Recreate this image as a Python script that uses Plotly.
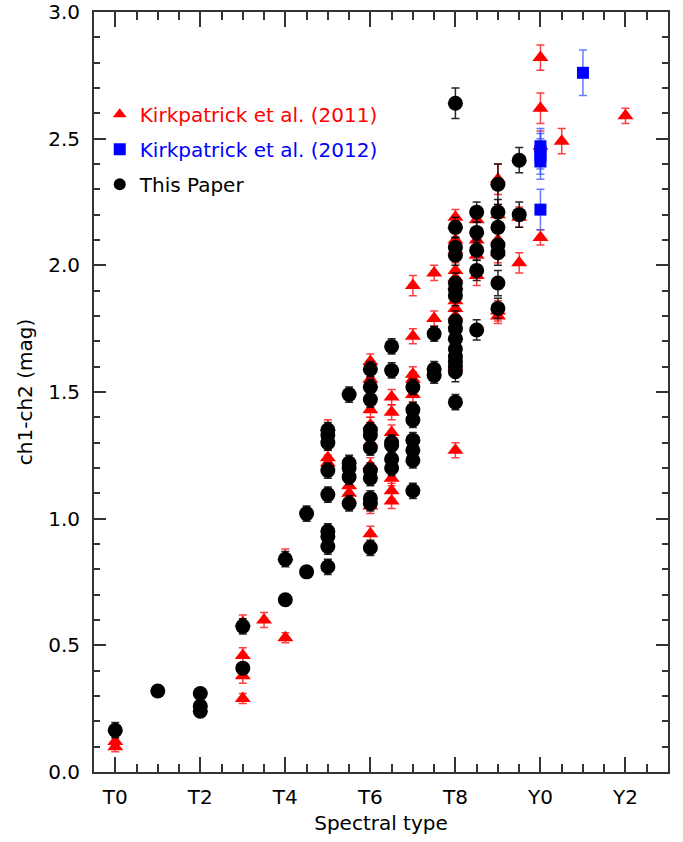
import plotly.graph_objects as go

# Kirkpatrick et al. (2011)
k11_x = [0, 0, 3, 3, 3, 3, 3.5, 4, 4, 5, 5, 5, 5.5, 5.5,
         6, 6, 6, 6, 6, 6, 6, 6, 6,
         6.5, 6.5, 6.5, 6.5, 6.5, 6.5,
         7, 7, 7, 7, 7, 7.5, 7.5,
         8, 8, 8, 8, 8, 8, 8, 8, 8, 8, 8, 8, 8,
         8.5, 8.5, 8.5, 8.5,
         9, 9, 9, 9, 9, 9, 9.5, 9.5,
         10, 10, 10, 10, 10.5, 12]
k11_y = [0.12, 0.10, 0.59, 0.46, 0.38, 0.29, 0.60, 0.85, 0.53, 1.36, 1.24, 1.22, 1.13, 1.10,
         1.62, 1.55, 1.53, 1.43, 1.37, 1.30, 1.21, 1.05, 0.94,
         1.48, 1.42, 1.34, 1.16, 1.11, 1.07,
         1.92, 1.72, 1.57, 1.55, 1.49, 1.97, 1.79,
         2.19, 2.16, 2.10, 2.06, 1.98, 1.95, 1.92, 1.86, 1.83, 1.80, 1.72, 1.60, 1.27,
         2.18, 2.10, 2.04, 1.96,
         2.34, 2.20, 2.10, 2.05, 1.82, 1.80, 2.19, 2.01,
         2.82, 2.62, 2.47, 2.11, 2.49, 2.59]
k11_err = [0.02, 0.02, 0.03, 0.03, 0.03, 0.02, 0.03, 0.03, 0.02, 0.03, 0.03, 0.03, 0.03, 0.03,
           0.03, 0.03, 0.03, 0.03, 0.03, 0.03, 0.03, 0.03, 0.03,
           0.03, 0.03, 0.03, 0.03, 0.03, 0.03,
           0.04, 0.03, 0.03, 0.03, 0.03, 0.03, 0.03,
           0.03, 0.03, 0.03, 0.03, 0.03, 0.03, 0.03, 0.03, 0.03, 0.03, 0.03, 0.03, 0.03,
           0.04, 0.04, 0.04, 0.04,
           0.06, 0.04, 0.04, 0.04, 0.04, 0.03, 0.04, 0.04,
           0.05, 0.06, 0.06, 0.03, 0.05, 0.03]

# Kirkpatrick et al. (2012)
k12_x = [10, 10, 10, 10, 10, 11]
k12_y = [2.47, 2.45, 2.43, 2.41, 2.22, 2.76]
k12_err = [0.07, 0.07, 0.07, 0.07, 0.08, 0.09]

# This Paper
tp_x = [0, 1, 2, 2, 2, 3, 3, 4, 4, 4.5, 4.5,
        5, 5, 5, 5, 5, 5, 5, 5, 5,
        5.5, 5.5, 5.5, 5.5, 5.5,
        6, 6, 6, 6, 6, 6, 6, 6, 6, 6, 6,
        6.5, 6.5, 6.5, 6.5, 6.5, 6.5,
        7, 7, 7, 7, 7, 7, 7,
        7.5, 7.5, 7.5,
        8, 8, 8, 8, 8, 8, 8, 8, 8, 8, 8, 8, 8, 8, 8, 8,
        8.5, 8.5, 8.5, 8.5, 8.5,
        9, 9, 9, 9, 9, 9, 9,
        9.5, 9.5]
tp_y = [0.165, 0.32, 0.31, 0.26, 0.24, 0.575, 0.41, 0.84, 0.68, 1.02, 0.79,
        1.35, 1.33, 1.30, 1.19, 1.095, 0.95, 0.93, 0.89, 0.81,
        1.49, 1.22, 1.20, 1.165, 1.06,
        1.59, 1.52, 1.47, 1.35, 1.33, 1.28, 1.19, 1.16, 1.08, 1.06, 0.885,
        1.68, 1.585, 1.30, 1.29, 1.235, 1.20,
        1.52, 1.43, 1.39, 1.31, 1.27, 1.23, 1.11,
        1.73, 1.59, 1.565,
        2.64, 2.15, 2.07, 2.04, 1.93, 1.905, 1.88, 1.78, 1.75, 1.71, 1.67, 1.64, 1.62, 1.60, 1.58, 1.46,
        2.21, 2.13, 2.06, 1.98, 1.745,
        2.32, 2.21, 2.15, 2.08, 2.05, 1.93, 1.83,
        2.415, 2.20]
tp_err = [0.03, 0.02, 0.02, 0.02, 0.02, 0.03, 0.02, 0.03, 0.02, 0.03, 0.02,
          0.03, 0.03, 0.03, 0.03, 0.03, 0.03, 0.03, 0.03, 0.03,
          0.03, 0.03, 0.03, 0.03, 0.03,
          0.03, 0.03, 0.03, 0.03, 0.03, 0.03, 0.03, 0.03, 0.03, 0.03, 0.03,
          0.03, 0.03, 0.03, 0.03, 0.03, 0.03,
          0.03, 0.03, 0.03, 0.03, 0.03, 0.03, 0.03,
          0.03, 0.03, 0.03,
          0.06, 0.04, 0.04, 0.04, 0.04, 0.04, 0.04, 0.04, 0.04, 0.04, 0.04, 0.04, 0.04, 0.04, 0.04, 0.03,
          0.04, 0.04, 0.04, 0.04, 0.04,
          0.08, 0.05, 0.05, 0.05, 0.05, 0.05, 0.04,
          0.05, 0.05]

x_tickvals = [0, 2, 4, 6, 8, 10, 12]
x_ticktext = ["T0", "T2", "T4", "T6", "T8", "Y0", "Y2"]
y_tickvals = [0.0, 0.5, 1.0, 1.5, 2.0, 2.5, 3.0]
y_ticktext = ["0.0", "0.5", "1.0", "1.5", "2.0", "2.5", "3.0"]

FONT = "DejaVu Sans"

fig = go.Figure()
fig.add_trace(go.Scatter(
    x=k11_x, y=k11_y, mode="markers", legendgroup="k11",
    name="<span style='color:#ff0000'>Kirkpatrick et al. (2011)</span>",
    marker=dict(symbol="triangle-up", size=14, color="#ff0000", line=dict(width=0)),
    error_y=dict(type="data", array=k11_err, visible=True, color="rgba(255,0,0,0.75)", thickness=1.5, width=4),
))
fig.add_trace(go.Scatter(
    x=k12_x, y=k12_y, mode="markers", legendgroup="k12",
    name="<span style='color:#0000ff'>Kirkpatrick et al. (2012)</span>",
    marker=dict(symbol="square", size=12, color="#0000ff", line=dict(width=0)),
    error_y=dict(type="data", array=k12_err, visible=True, color="rgba(60,90,255,0.8)", thickness=1.5, width=4),
))
fig.add_trace(go.Scatter(
    x=tp_x, y=tp_y, mode="markers", legendgroup="tp",
    name="<span style='color:#000000'>This Paper</span>",
    marker=dict(symbol="circle", size=15, color="#000000", line=dict(width=0)),
    error_y=dict(type="data", array=tp_err, visible=True, color="rgba(0,0,0,0.85)", thickness=1.5, width=4),
))

axis_common = dict(
    showline=True, linecolor="#333333", linewidth=2, mirror="allticks",
    ticks="inside", tickcolor="#333333", tickwidth=1.5,
    showgrid=False, zeroline=False, automargin=False,
    ticklabeloverflow="allow",
    tickfont=dict(family=FONT, size=20, color="#000000"),
)

fig.update_xaxes(
    range=[-0.5, 13.0], tickmode="array", tickvals=x_tickvals, ticktext=x_ticktext,
    ticklen=15, ticklabelstandoff=6,
    minor=dict(ticks="inside", dtick=0.5, ticklen=8, tickwidth=1.5, tickcolor="#333333"),
    title=dict(text="Spectral type", font=dict(family=FONT, size=20, color="#000000"), standoff=8),
    **axis_common,
)
fig.update_yaxes(
    range=[0.0, 3.0], tickmode="array", tickvals=y_tickvals, ticktext=y_ticktext,
    ticklen=12, ticklabelstandoff=8,
    minor=dict(ticks="inside", dtick=0.1, ticklen=6, tickwidth=1.5, tickcolor="#333333"),
    title=dict(text="ch1-ch2 (mag)", font=dict(family=FONT, size=20, color="#000000"), standoff=10),
    **axis_common,
)

fig.update_layout(
    width=683, height=842,
    margin=dict(l=94, r=15, t=12, b=70),
    paper_bgcolor="white", plot_bgcolor="white",
    showlegend=True,
    legend=dict(x=0.01, y=0.891, xanchor="left", yanchor="top",
                bgcolor="rgba(0,0,0,0)", font=dict(family=FONT, size=20),
                itemsizing="constant", traceorder="grouped", tracegroupgap=6),
)

fig.write_html("out.html", config={"displayModeBar": False},
               post_script="document.body.style.margin='0px';document.body.style.overflow='hidden';")
